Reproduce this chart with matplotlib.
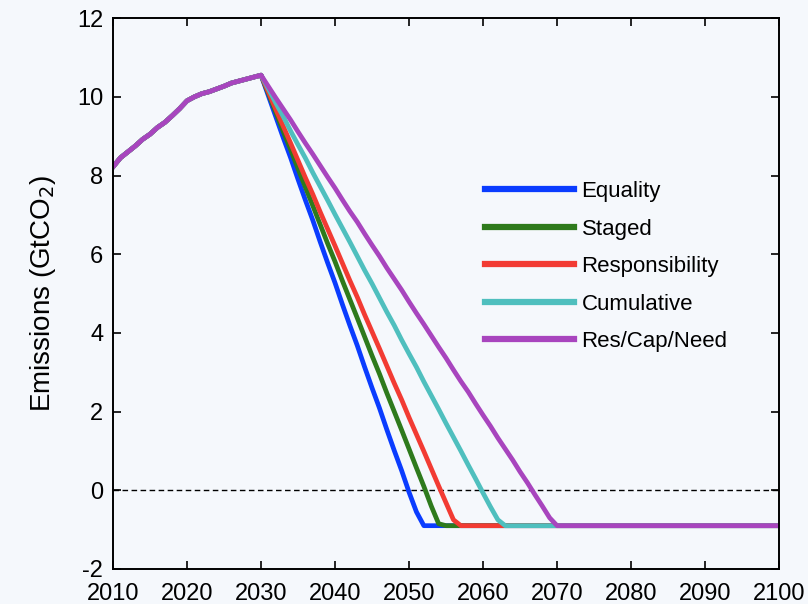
import matplotlib
matplotlib.use('Agg')
import matplotlib.pyplot as plt

plt.rcParams['font.family'] = ['Liberation Sans', 'DejaVu Sans']
plt.rcParams['axes.unicode_minus'] = False

BG = '#F5F8FC'

# shared historical path 2010-2030
HIST_YEARS = list(range(2010, 2031))
HIST_VALUES = [8.22, 8.45, 8.60, 8.75, 8.92, 9.05, 9.22, 9.35, 9.52, 9.70,
               9.90, 10.00, 10.08, 10.13, 10.20, 10.27, 10.35, 10.40, 10.45,
               10.50, 10.55]

# projected pathways (year lists end with the floor reached, then 2100)
EQ_YEARS = list(range(2031, 2053)) + [2100]
EQ_VALUES = [10.02, 9.49, 8.96, 8.45, 7.90, 7.37, 6.86, 6.31, 5.78, 5.27,
             4.72, 4.19, 3.68, 3.13, 2.60, 2.09, 1.54, 1.01, 0.50, -0.05,
             -0.55, -0.90, -0.90]

ST_YEARS = list(range(2031, 2056)) + [2100]
ST_VALUES = [10.08, 9.60, 9.12, 8.66, 8.17, 7.70, 7.23, 6.75, 6.27, 5.81,
             5.32, 4.85, 4.38, 3.90, 3.42, 2.96, 2.47, 2.00, 1.53, 1.05,
             0.57, 0.10, -0.40, -0.85, -0.90, -0.90]

RE_YEARS = list(range(2031, 2058)) + [2100]
RE_VALUES = [10.12, 9.68, 9.25, 8.82, 8.38, 7.94, 7.52, 7.07, 6.64, 6.21,
             5.77, 5.33, 4.91, 4.46, 4.03, 3.60, 3.16, 2.72, 2.30, 1.85,
             1.42, 0.99, 0.55, 0.11, -0.32, -0.75, -0.90, -0.90]

CU_YEARS = list(range(2031, 2064)) + [2100]
CU_VALUES = [10.20, 9.84, 9.50, 9.13, 8.78, 8.44, 8.07, 7.72, 7.37, 7.01,
             6.66, 6.31, 5.95, 5.59, 5.25, 4.89, 4.53, 4.19, 3.82, 3.47,
             3.13, 2.76, 2.41, 2.06, 1.70, 1.35, 1.00, 0.64, 0.29, -0.07,
             -0.42, -0.75, -0.90, -0.90]

RC_YEARS = list(range(2031, 2071)) + [2100]
RC_VALUES = [10.26, 9.97, 9.69, 9.41, 9.11, 8.82, 8.54, 8.25, 7.96, 7.68,
             7.38, 7.09, 6.82, 6.52, 6.23, 5.95, 5.65, 5.37, 5.09, 4.79,
             4.50, 4.22, 3.93, 3.64, 3.36, 3.06, 2.77, 2.50, 2.20, 1.91,
             1.63, 1.33, 1.05, 0.77, 0.47, 0.19, -0.11, -0.40, -0.70, -0.90,
             -0.90]

SERIES = [
    ("Equality", EQ_YEARS, EQ_VALUES, '#0A3CFF'),
    ("Staged", ST_YEARS, ST_VALUES, '#2E7A1C'),
    ("Responsibility", RE_YEARS, RE_VALUES, '#F23B33'),
    ("Cumulative", CU_YEARS, CU_VALUES, '#4FBFBE'),
    ("Res/Cap/Need", RC_YEARS, RC_VALUES, '#A845BE'),
]

fig = plt.figure(figsize=(8.08, 6.04), dpi=100, facecolor=BG)
ax = fig.add_axes([0.1399, 0.058, 0.8243, 0.912])
ax.set_facecolor(BG)

ax.axhline(0, color='black', linewidth=1.0, linestyle=(0, (4, 2.5)), zorder=1)

for name, yrs, vals, col in SERIES:
    ax.plot(HIST_YEARS + yrs, HIST_VALUES + vals, color=col, linewidth=3.4,
            label=name, solid_joinstyle='round', zorder=2)

ax.set_xlim(2010, 2100)
ax.set_ylim(-2, 12)
ax.set_xticks(range(2010, 2101, 10))
ax.set_yticks(range(-2, 13, 2))
ax.tick_params(direction='in', length=6, width=1.2, labelsize=17,
               top=True, right=True)
ax.tick_params(axis='x', pad=10)
ax.tick_params(axis='y', pad=7)
for sp in ax.spines.values():
    sp.set_linewidth(1.4)

ax.set_ylabel(r'Emissions (GtCO$_2$)', fontsize=20, labelpad=14)

leg = ax.legend(loc='upper left', bbox_to_anchor=(0.545, 0.72), frameon=False,
                fontsize=16, handlelength=4.0, handletextpad=0.35,
                labelspacing=0.74, borderaxespad=0)
for line in leg.get_lines():
    line.set_linewidth(4.5)

plt.savefig('out.png', dpi=100, facecolor=BG)
